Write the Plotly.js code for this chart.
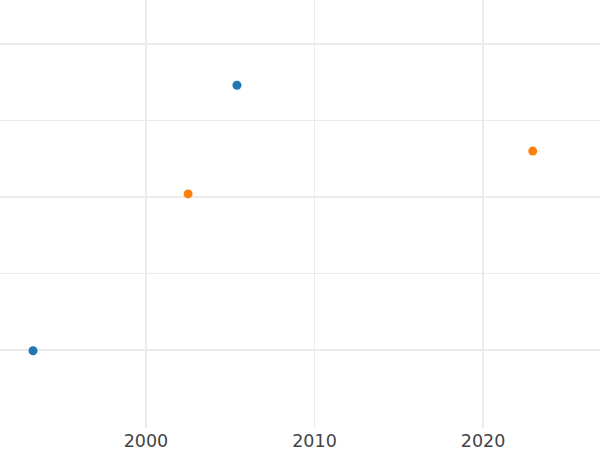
<!DOCTYPE html>
<html>
<head>
<meta charset="utf-8">
<script src="https://cdn.plot.ly/plotly-3.0.1.min.js"></script>
<style>html,body{margin:0;padding:0;background:#fff;}#chart{width:600px;height:450px;}</style>
</head>
<body>
<div id="chart"></div>
<script>
const seriesAYears = [1993.3, 2005.4];
const seriesAValues = [-0.1, 34.6];
const seriesBYears = [2002.5, 2022.95];
const seriesBValues = [20.4, 26.0];
const xTickVals = [2000, 2010, 2020];
const xTickText = ["2000", "2010", "2020"];

const traces = [
  {x: seriesAYears, y: seriesAValues, mode: "markers", type: "scatter",
   marker: {color: "#1f77b4", size: 9}, showlegend: false},
  {x: seriesBYears, y: seriesBValues, mode: "markers", type: "scatter",
   marker: {color: "#ff7f0e", size: 9}, showlegend: false}
];

const layout = {
  width: 600, height: 450,
  margin: {l: 0, r: 0, t: 0, b: 22, pad: 0},
  paper_bgcolor: "#fff", plot_bgcolor: "#fff",
  font: {family: "DejaVu Sans", color: "#444", size: 17.5},
  xaxis: {range: [1991.34, 2026.94], tickvals: xTickVals, ticktext: xTickText,
          showgrid: true, gridcolor: "#ebebeb", gridwidth: 1.5, zeroline: false,
          showline: false, ticks: ""},
  yaxis: {range: [-10.2, 45.75], tickvals: [0, 10, 20, 30, 40], showticklabels: false,
          showgrid: true, gridcolor: "#ebebeb", gridwidth: 1.5, zeroline: false,
          showline: false, ticks: ""}
};

Plotly.newPlot("chart", traces, layout, {displayModeBar: false, staticPlot: true});
</script>
</body>
</html>
